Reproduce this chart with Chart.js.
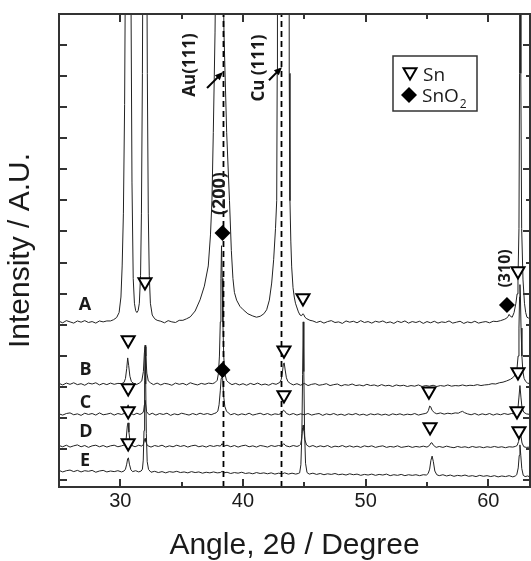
<!DOCTYPE html>
<html>
<head>
<meta charset="utf-8">
<title>XRD patterns A-E</title>
<script src="https://cdn.jsdelivr.net/npm/chart.js"></script>
<style>
  html, body { margin: 0; padding: 0; background: #fff; overflow: hidden; }
  canvas { display: block; }
</style>
</head>
<body>
<canvas id="xrd" width="531" height="561"></canvas>
<script>
// Diffraction traces: [2-theta, intensity above the trace baseline]
const traceA = [
  [25.0, 0.02], [25.3, -0.03], [25.6, 0.04], [25.9, 0.00], [26.2, -0.04], [26.5, 0.03], [26.8, -0.01], [27.1, 0.04],
  [27.4, -0.02], [27.7, 0.01], [28.0, -0.04], [28.3, 0.03], [28.6, 0.00], [28.9, 0.03], [29.2, 0.03], [29.45, 0.07],
  [29.7, 0.14], [29.9, 0.3], [30.05, 0.8], [30.15, 1.8], [30.25, 3.5], [30.35, 7], [30.45, 14], [30.55, 28],
  [30.65, 40], [30.75, 28], [30.85, 12], [30.95, 4.5], [31.05, 1.4], [31.15, 0.6], [31.25, 0.36], [31.35, 0.3],
  [31.45, 0.36], [31.55, 0.6], [31.65, 1.5], [31.72, 3.5], [31.8, 8], [31.9, 18], [32.0, 40], [32.1, 18],
  [32.2, 8], [32.28, 3.5], [32.36, 1.5], [32.45, 0.6], [32.6, 0.22], [32.8, 0.1], [33.0, 0.05],
  [33.3, 0.02], [33.6, -0.03], [33.9, 0.04], [34.2, 0.00], [34.5, -0.02], [34.8, 0.05], [35.1, 0.05],
  [35.4, 0.1], [35.7, 0.16], [36.1, 0.35], [36.5, 0.71], [36.85, 1.15], [37.17, 1.8], [37.35, 2.8], [37.47, 3.9],
  [37.58, 6.1], [37.72, 9.3], [37.85, 14], [38.08, 24], [38.3, 14], [38.45, 9.3], [38.67, 6.1], [38.9, 3.9],
  [39.05, 2.3], [39.18, 1.4], [39.3, 0.95], [39.48, 0.7], [39.75, 0.5], [40.02, 0.39], [40.4, 0.26], [40.8, 0.19],
  [41.1, 0.15], [41.4, 0.18], [41.7, 0.26], [41.93, 0.39], [42.15, 0.7], [42.34, 1.25], [42.5, 2.0], [42.65, 3.0],
  [42.75, 3.9], [42.79, 8], [42.81, 30], [43.27, 300], [43.74, 30], [43.77, 8], [43.83, 3.9], [43.9, 2.6],
  [43.97, 1.77], [44.08, 1.1], [44.18, 0.8], [44.28, 0.6], [44.38, 0.48], [44.52, 0.32], [44.65, 0.22], [44.78, 0.2],
  [44.88, 0.26], [44.95, 0.24], [45.05, 0.15], [45.2, 0.1], [45.46, 0.05],
  [45.7, 0.03], [46.0, -0.02], [46.3, 0.02], [46.6, -0.04], [46.9, 0.01], [47.2, 0.04], [47.5, -0.02], [47.8, 0.00],
  [48.1, -0.05], [48.4, 0.03], [48.7, -0.01], [49.0, 0.02], [49.3, -0.03], [49.6, 0.04], [49.9, -0.02], [50.2, 0.01],
  [50.5, -0.04], [50.8, 0.02], [51.1, -0.01], [51.4, 0.03], [51.7, -0.03], [52.0, 0.00], [52.3, -0.05], [52.6, 0.02],
  [52.9, -0.02], [53.2, 0.03], [53.5, -0.04], [53.8, 0.01], [54.1, -0.02], [54.4, 0.02], [54.7, -0.05], [55.0, 0.01],
  [55.3, -0.03], [55.6, 0.02], [55.9, -0.04], [56.2, 0.00], [56.5, -0.02], [56.8, 0.03], [57.1, -0.04], [57.4, -0.01],
  [57.7, 0.02], [58.0, -0.05], [58.3, 0.00], [58.6, -0.03], [58.9, 0.02], [59.2, -0.04], [59.5, -0.01], [59.8, 0.01],
  [60.1, -0.03], [60.4, 0.02], [60.7, 0.01],
  [61.0, 0.04], [61.3, 0.08], [61.5, 0.12], [61.62, 0.18], [61.7, 0.24], [61.8, 0.18], [61.95, 0.15], [62.1, 0.3],
  [62.25, 0.6], [62.35, 0.9], [62.42, 1.35], [62.5, 3], [62.55, 8], [62.6, 30], [62.65, 8], [62.72, 3],
  [62.83, 1.35], [62.95, 0.6], [63.05, 0.3], [63.15, 0.15], [63.3, 0.12], [63.4, 0.15]
];

const traceB = [
  [25.0, 0.02], [25.3, -0.03], [25.6, 0.03], [25.9, -0.01], [26.2, 0.04], [26.5, -0.02], [26.8, 0.01], [27.1, -0.04],
  [27.4, 0.03], [27.7, 0.00], [28.0, 0.04], [28.3, -0.03], [28.6, 0.02], [28.9, -0.02], [29.2, 0.03], [29.5, -0.01],
  [29.8, 0.02], [30.1, 0.01],
  [30.3, 0.05], [30.42, 0.18], [30.52, 0.5], [30.6, 0.84], [30.68, 0.6], [30.78, 0.25], [30.9, 0.08], [31.05, 0.03],
  [31.3, -0.02], [31.55, 0.03], [31.75, 0.1], [31.88, 0.4], [31.96, 1.0], [32.02, 1.2], [32.08, 0.9], [32.16, 0.35],
  [32.28, 0.1], [32.45, 0.04],
  [32.7, -0.02], [33.0, 0.03], [33.3, -0.03], [33.6, 0.02], [33.9, 0.00], [34.2, -0.04], [34.5, 0.03], [34.8, -0.01],
  [35.1, 0.02], [35.4, -0.03], [35.7, 0.04], [36.0, 0.00], [36.3, -0.03], [36.6, 0.02], [36.9, -0.01], [37.2, 0.03],
  [37.5, 0.01],
  [37.7, 0.04], [37.9, 0.12], [38.0, 0.35], [38.08, 0.9], [38.15, 2.0], [38.2, 3.4], [38.25, 4.45], [38.3, 3.4],
  [38.36, 2.0], [38.43, 0.9], [38.52, 0.35], [38.65, 0.12], [38.85, 0.04],
  [39.1, -0.02], [39.4, 0.02], [39.7, -0.03], [40.0, 0.01], [40.3, -0.04], [40.6, 0.02], [40.9, -0.02], [41.2, 0.03],
  [41.5, -0.03], [41.8, 0.00], [42.1, -0.04], [42.4, 0.02], [42.7, -0.01],
  [43.0, 0.05], [43.12, 0.15], [43.22, 0.4], [43.3, 0.65], [43.36, 0.68], [43.44, 0.45], [43.54, 0.2], [43.66, 0.08],
  [43.85, 0.02],
  [44.1, -0.03], [44.4, 0.01], [44.7, -0.04], [45.0, 0.02], [45.3, -0.05], [45.6, -0.01], [45.9, 0.01], [46.2, -0.04],
  [46.5, -0.02], [46.8, 0.01], [47.1, -0.05], [47.4, -0.02], [47.7, 0.00], [48.0, -0.06], [48.3, -0.02], [48.6, -0.04],
  [48.9, 0.00], [49.2, -0.05], [49.5, -0.03], [49.8, -0.06], [50.1, -0.01], [50.4, -0.05], [50.7, -0.03], [51.0, -0.07],
  [51.3, -0.02], [51.6, -0.06], [51.9, -0.04], [52.2, -0.08], [52.5, -0.03], [52.8, -0.06], [53.1, -0.04], [53.4, -0.08],
  [53.7, -0.05], [54.0, -0.07], [54.3, -0.03], [54.6, -0.08], [54.9, -0.05], [55.2, -0.07], [55.5, -0.04], [55.8, -0.08],
  [56.1, -0.05], [56.4, -0.07], [56.7, -0.03], [57.0, -0.07], [57.3, -0.05], [57.6, -0.06], [57.9, -0.03], [58.2, -0.06],
  [58.5, -0.04], [58.8, -0.05], [59.1, -0.02], [59.4, -0.05], [59.7, -0.03], [60.0, -0.02],
  [60.3, 0.01], [60.6, 0.00], [60.9, 0.04], [61.2, 0.06], [61.5, 0.1], [61.8, 0.15], [62.05, 0.22], [62.2, 0.3],
  [62.33, 0.45], [62.43, 0.9], [62.5, 1.8], [62.55, 2.8], [62.58, 3.2], [62.62, 2.8], [62.67, 1.8], [62.74, 0.9],
  [62.82, 0.4], [62.92, 0.18], [63.05, 0.08], [63.2, 0.03], [63.4, 0.01]
];

const traceC = [
  [25.0, 0.01], [25.3, -0.03], [25.6, 0.02], [25.9, 0.04], [26.2, -0.02], [26.5, 0.01], [26.8, -0.04], [27.1, 0.03],
  [27.4, -0.01], [27.7, 0.02], [28.0, -0.03], [28.3, 0.04], [28.6, -0.02], [28.9, 0.00], [29.2, 0.03], [29.5, -0.03],
  [29.8, 0.02], [30.1, -0.01], [30.3, 0.02],
  [30.45, 0.06], [30.56, 0.22], [30.64, 0.3], [30.73, 0.13], [30.88, 0.02],
  [31.1, -0.02], [31.35, 0.03], [31.6, -0.01], [31.8, 0.03],
  [31.9, 0.1], [31.96, 0.3], [32.01, 0.45], [32.06, 0.32], [32.14, 0.08],
  [32.35, -0.02], [32.6, 0.03], [32.9, -0.03], [33.2, 0.02], [33.5, -0.01], [33.8, 0.03], [34.1, -0.04], [34.4, 0.01],
  [34.7, -0.02], [35.0, 0.03], [35.3, 0.00], [35.6, -0.03], [35.9, 0.02], [36.2, -0.02], [36.5, 0.03], [36.8, -0.01],
  [37.1, 0.02], [37.4, -0.02], [37.65, 0.02],
  [37.8, 0.04], [37.95, 0.1], [38.05, 0.3], [38.15, 0.75], [38.22, 1.15], [38.28, 1.35], [38.34, 1.15], [38.42, 0.6],
  [38.52, 0.25], [38.65, 0.1], [38.8, 0.04],
  [39.0, -0.02], [39.3, 0.02], [39.6, -0.03], [39.9, 0.01], [40.2, -0.02], [40.5, 0.03], [40.8, -0.03], [41.1, 0.00],
  [41.4, 0.03], [41.7, -0.02], [42.0, 0.02], [42.3, -0.03], [42.6, 0.01], [42.9, -0.01],
  [43.15, 0.03], [43.3, 0.13], [43.4, 0.1], [43.55, 0.02],
  [43.8, -0.02], [44.1, 0.02], [44.4, -0.03], [44.7, 0.01], [45.0, -0.02], [45.3, 0.02], [45.6, -0.03], [45.9, 0.00],
  [46.2, 0.02], [46.5, -0.04], [46.8, 0.01], [47.1, -0.02], [47.4, 0.02], [47.7, -0.03], [48.0, 0.00], [48.3, -0.04],
  [48.6, 0.01], [48.9, -0.02], [49.2, 0.02], [49.5, -0.03], [49.8, 0.00], [50.1, -0.04], [50.4, 0.01], [50.7, -0.02],
  [51.0, 0.01], [51.3, -0.03], [51.6, 0.00], [51.9, -0.04], [52.2, 0.01], [52.5, -0.02], [52.8, 0.01], [53.1, -0.03],
  [53.4, 0.00], [53.7, -0.02], [54.0, 0.02], [54.3, -0.03], [54.6, 0.00], [54.85, 0.02],
  [55.0, 0.04], [55.12, 0.12], [55.22, 0.26], [55.3, 0.24], [55.42, 0.12], [55.6, 0.05],
  [55.8, 0.01], [56.1, 0.04], [56.4, 0.00], [56.7, 0.03], [57.0, 0.01], [57.3, 0.04], [57.55, 0.03], [57.75, 0.07],
  [57.9, 0.09], [58.05, 0.05], [58.3, 0.01], [58.6, -0.02], [58.9, 0.02], [59.2, -0.03], [59.5, 0.01], [59.8, -0.02],
  [60.1, 0.02], [60.4, -0.03], [60.7, 0.01], [61.0, -0.02], [61.3, 0.02], [61.6, -0.01], [61.9, 0.02], [62.15, 0.01],
  [62.3, 0.05], [62.42, 0.2], [62.5, 0.55], [62.58, 0.92], [62.66, 0.55], [62.75, 0.2], [62.9, 0.06], [63.1, 0.01],
  [63.4, -0.01]
];

const traceD = [
  [25.0, 0.02], [25.3, -0.02], [25.6, 0.03], [25.9, -0.03], [26.2, 0.01], [26.5, 0.04], [26.8, -0.02], [27.1, 0.02],
  [27.4, -0.04], [27.7, 0.01], [28.0, 0.03], [28.3, -0.02], [28.6, 0.02], [28.9, -0.03], [29.2, 0.01], [29.5, 0.03],
  [29.8, -0.02], [30.1, 0.01],
  [30.35, 0.04], [30.48, 0.25], [30.57, 0.65], [30.63, 0.75], [30.7, 0.45], [30.8, 0.12], [30.95, 0.02],
  [31.2, -0.02], [31.5, 0.03], [31.75, 0.00],
  [31.88, 0.06], [31.97, 0.2], [32.02, 0.25], [32.08, 0.15], [32.2, 0.02],
  [32.5, -0.03], [32.8, 0.02], [33.1, -0.01], [33.4, 0.03], [33.7, -0.03], [34.0, 0.01], [34.3, -0.02], [34.6, 0.03],
  [34.9, -0.01], [35.2, 0.02], [35.5, -0.03], [35.8, 0.01], [36.1, 0.03], [36.4, -0.02], [36.7, 0.01], [37.0, -0.03],
  [37.3, 0.02], [37.6, -0.01], [37.9, 0.02], [38.15, 0.00], [38.3, 0.08], [38.45, 0.00], [38.7, 0.03], [39.0, -0.02],
  [39.3, 0.02], [39.6, -0.03], [39.9, 0.01], [40.2, 0.03], [40.5, -0.02], [40.8, 0.01], [41.1, -0.03], [41.4, 0.02],
  [41.7, 0.00], [42.0, -0.03], [42.3, 0.02], [42.6, -0.01], [42.9, 0.02], [43.15, 0.00], [43.32, 0.08], [43.5, 0.01],
  [43.8, -0.02], [44.1, 0.02], [44.4, -0.01], [44.6, 0.02],
  [44.7, 0.06], [44.79, 0.25], [44.86, 0.6], [44.91, 0.68], [44.97, 0.5], [45.05, 0.2], [45.18, 0.04],
  [45.4, -0.02], [45.7, 0.02], [46.0, -0.03], [46.3, 0.01], [46.6, -0.02], [46.9, 0.02], [47.2, -0.04], [47.5, 0.00],
  [47.8, -0.02], [48.1, 0.02], [48.4, -0.03], [48.7, 0.01], [49.0, -0.03], [49.3, 0.00], [49.6, -0.04], [49.9, 0.01],
  [50.2, -0.02], [50.5, 0.01], [50.8, -0.04], [51.1, -0.01], [51.4, 0.01], [51.7, -0.04], [52.0, -0.01], [52.3, -0.03],
  [52.6, 0.01], [52.9, -0.04], [53.2, -0.02], [53.5, 0.00], [53.8, -0.04], [54.1, -0.01], [54.4, -0.03], [54.7, 0.00],
  [55.0, -0.03],
  [55.2, 0.02], [55.32, 0.1], [55.4, 0.11], [55.52, 0.03],
  [55.75, -0.04], [56.0, -0.01], [56.3, -0.04], [56.6, 0.00], [56.9, -0.03], [57.2, -0.05], [57.5, -0.01], [57.8, -0.04],
  [58.1, -0.02], [58.4, -0.05], [58.7, -0.01], [59.0, -0.04], [59.3, -0.02], [59.6, -0.05], [59.9, -0.02], [60.2, -0.04],
  [60.5, -0.01], [60.8, -0.04], [61.1, -0.02], [61.4, -0.05], [61.7, -0.02], [62.0, -0.03], [62.2, -0.01],
  [62.35, 0.02], [62.47, 0.15], [62.55, 0.38], [62.6, 0.43], [62.66, 0.33], [62.75, 0.1], [62.9, -0.02], [63.1, -0.04],
  [63.4, -0.03]
];

const traceE = [
  [25.0, 0.02], [25.3, -0.03], [25.6, 0.01], [25.9, 0.03], [26.2, -0.02], [26.5, 0.02], [26.8, -0.03], [27.1, 0.01],
  [27.4, -0.01], [27.7, 0.02], [28.0, -0.04], [28.3, 0.00], [28.6, 0.02], [28.9, -0.03], [29.2, 0.00], [29.5, -0.02],
  [29.8, 0.01], [30.1, -0.03], [30.3, 0.00],
  [30.42, 0.06], [30.52, 0.22], [30.6, 0.4], [30.66, 0.42], [30.74, 0.22], [30.86, 0.04],
  [31.0, -0.02], [31.25, 0.01], [31.5, -0.03], [31.7, 0.00],
  [31.8, 0.06], [31.87, 0.35], [31.93, 1.3], [31.98, 2.9], [32.02, 4.05], [32.07, 2.8], [32.12, 1.2], [32.19, 0.3],
  [32.3, 0.05],
  [32.5, -0.04], [32.8, -0.01], [33.1, -0.05], [33.4, -0.02], [33.7, -0.06], [34.0, -0.02], [34.3, -0.04], [34.6, -0.01],
  [34.9, -0.05], [35.2, -0.03], [35.5, -0.06], [35.8, -0.02], [36.1, -0.05], [36.4, -0.03], [36.7, -0.07], [37.0, -0.04],
  [37.3, -0.06], [37.6, -0.03], [37.9, -0.06], [38.15, -0.05], [38.3, -0.01], [38.45, -0.06], [38.7, -0.04], [39.0, -0.08],
  [39.3, -0.05], [39.6, -0.07], [39.9, -0.04], [40.2, -0.08], [40.5, -0.06], [40.8, -0.09], [41.1, -0.05], [41.4, -0.08],
  [41.7, -0.06], [42.0, -0.09], [42.3, -0.06], [42.6, -0.1], [42.9, -0.07], [43.2, -0.09], [43.4, -0.06], [43.7, -0.1],
  [44.0, -0.07], [44.3, -0.1], [44.5, -0.08], [44.62, -0.06],
  [44.72, 0.2], [44.8, 1.2], [44.86, 3.1], [44.91, 4.8], [44.96, 3.2], [45.02, 1.3], [45.1, 0.25], [45.22, -0.05],
  [45.4, -0.1], [45.7, -0.07], [46.0, -0.11], [46.3, -0.08], [46.6, -0.12], [46.9, -0.09], [47.2, -0.11], [47.5, -0.08],
  [47.8, -0.12], [48.1, -0.1], [48.4, -0.13], [48.7, -0.09], [49.0, -0.12], [49.3, -0.1], [49.6, -0.14], [49.9, -0.11],
  [50.2, -0.13], [50.5, -0.1], [50.8, -0.14], [51.1, -0.11], [51.4, -0.13], [51.7, -0.1], [52.0, -0.15], [52.3, -0.12],
  [52.6, -0.14], [52.9, -0.11], [53.2, -0.15], [53.5, -0.12], [53.8, -0.14], [54.1, -0.12], [54.4, -0.15], [54.7, -0.12],
  [54.95, -0.13],
  [55.1, -0.08], [55.22, 0.06], [55.32, 0.34], [55.42, 0.48], [55.52, 0.3], [55.64, 0.00], [55.8, -0.12],
  [56.0, -0.15], [56.3, -0.12], [56.6, -0.16], [56.9, -0.13], [57.2, -0.17], [57.5, -0.14], [57.8, -0.16], [58.1, -0.13],
  [58.4, -0.17], [58.7, -0.15], [59.0, -0.18], [59.3, -0.14], [59.6, -0.17], [59.9, -0.15], [60.2, -0.18], [60.5, -0.15],
  [60.8, -0.19], [61.1, -0.16], [61.4, -0.18], [61.7, -0.15], [62.0, -0.19], [62.2, -0.16],
  [62.32, -0.12], [62.44, 0.1], [62.52, 0.5], [62.58, 0.84], [62.65, 0.5], [62.73, 0.08], [62.85, -0.14], [63.0, -0.18],
  [63.2, -0.16], [63.4, -0.19]
];

const traces = [traceA, traceB, traceC, traceD, traceE];
const traceNames = ['A', 'B', 'C', 'D', 'E'];
const traceOffsets = [5.09, 3.09, 2.12, 1.09, 0.29];

// Phase markers [2-theta, stacked intensity]
const snPeaks = [
  [32.01, 6.37], [30.64, 4.51], [30.64, 2.96], [30.64, 2.22], [30.64, 1.19],
  [44.89, 5.86], [43.34, 4.18], [43.34, 2.74], [55.16, 2.86], [55.25, 1.71],
  [62.42, 6.73], [62.42, 3.48], [62.34, 2.22], [62.5, 1.58]
];
const sno2Peaks = [[38.33, 7.95], [38.33, 3.54], [61.52, 5.63]];

// Reference lines for Au(111) and Cu(111)
const refAngles = [38.41, 43.14];

// Axis ticks
const xMajorTicks = [30, 40, 50, 60];
const xMinorTicks = [35, 45, 55];
const yTicks = [0, 1, 2, 3, 4, 5, 6, 7, 8, 9, 10, 11, 12, 13, 14];

// Where the annotation texts sit (data coordinates)
const nameSpots = [[27.12, 5.63], [27.16, 3.56], [27.16, 2.49], [27.2, 1.54], [27.12, 0.61]];
const peakLabels = [
  { text: 'Au(111)', at: [35.68, 13.36], size: 17 },
  { text: 'Cu (111)', at: [41.31, 13.26], size: 17 },
  { text: '(200)', at: [38.13, 9.22], size: 18 },
  { text: '(310)', at: [61.36, 6.81], size: 16 }
];
const arrows = [[37.07, 12.62, 38.37, 13.13], [42.12, 12.87, 43.18, 13.29]];

const INK = '#1a1a1a';
const SANS = '"Liberation Sans", Arial, sans-serif';
const LABEL = '"Open Sans", "DejaVu Sans", sans-serif';

function drawDown(ctx, x, y, r) {
  ctx.beginPath();
  ctx.moveTo(x, y + r);
  ctx.lineTo(x - 0.866 * r, y - 0.5 * r);
  ctx.lineTo(x + 0.866 * r, y - 0.5 * r);
  ctx.closePath();
  ctx.fillStyle = '#fff';
  ctx.fill();
  ctx.lineWidth = 2;
  ctx.strokeStyle = '#000';
  ctx.stroke();
}

function drawDiamond(ctx, x, y, r) {
  ctx.beginPath();
  ctx.moveTo(x - r, y);
  ctx.lineTo(x, y - r);
  ctx.lineTo(x + r, y);
  ctx.lineTo(x, y + r);
  ctx.closePath();
  ctx.fillStyle = '#000';
  ctx.fill();
}

// Frame and inward ticks
const frame = {
  id: 'frame',
  afterDatasetsDraw(chart) {
    const { ctx, chartArea: a, scales: { x, y } } = chart;
    ctx.save();
    ctx.strokeStyle = '#333';
    ctx.lineWidth = 2;
    ctx.strokeRect(a.left, a.top, a.right - a.left, a.bottom - a.top);
    ctx.beginPath();
    const xt = [...xMajorTicks.map(v => [v, 8]), ...xMinorTicks.map(v => [v, 5])];
    xt.forEach(([v, len]) => {
      const px = Math.round(x.getPixelForValue(v));
      ctx.moveTo(px, a.bottom); ctx.lineTo(px, a.bottom - len);
      ctx.moveTo(px, a.top); ctx.lineTo(px, a.top + len);
    });
    yTicks.forEach(v => {
      const py = Math.round(y.getPixelForValue(v));
      ctx.moveTo(a.left, py); ctx.lineTo(a.left + 8, py);
      ctx.moveTo(a.right, py); ctx.lineTo(a.right - (v % 2 === 0 ? 7 : 4), py);
    });
    ctx.stroke();
    ctx.restore();
  }
};

// Trace letters, peak labels, arrows and the legend box
const notes = {
  id: 'notes',
  afterDatasetsDraw(chart) {
    const { ctx, chartArea: a, scales: { x, y } } = chart;
    ctx.save();
    ctx.fillStyle = INK;
    ctx.textAlign = 'center';
    ctx.textBaseline = 'middle';
    ctx.font = 'bold 18px ' + LABEL;
    traceNames.forEach((n, i) => {
      ctx.fillText(n, x.getPixelForValue(nameSpots[i][0]), y.getPixelForValue(nameSpots[i][1]));
    });

    peakLabels.forEach(l => {
      ctx.save();
      ctx.translate(x.getPixelForValue(l.at[0]), y.getPixelForValue(l.at[1]));
      ctx.rotate(-Math.PI / 2);
      ctx.font = 'bold ' + l.size + 'px ' + LABEL;
      ctx.fillText(l.text, 0, 0);
      ctx.restore();
    });

    arrows.forEach(([x0, y0, x1, y1]) => {
      const ax = x.getPixelForValue(x0), ay = y.getPixelForValue(y0);
      const bx = x.getPixelForValue(x1), by = y.getPixelForValue(y1);
      const ang = Math.atan2(by - ay, bx - ax);
      ctx.strokeStyle = '#000';
      ctx.lineWidth = 2;
      ctx.beginPath();
      ctx.moveTo(ax, ay);
      ctx.lineTo(bx - 5 * Math.cos(ang), by - 5 * Math.sin(ang));
      ctx.stroke();
      ctx.beginPath();
      ctx.moveTo(bx, by);
      ctx.lineTo(bx - 8 * Math.cos(ang) + 3.5 * Math.sin(ang), by - 8 * Math.sin(ang) - 3.5 * Math.cos(ang));
      ctx.lineTo(bx - 8 * Math.cos(ang) - 3.5 * Math.sin(ang), by - 8 * Math.sin(ang) + 3.5 * Math.cos(ang));
      ctx.closePath();
      ctx.fillStyle = '#000';
      ctx.fill();
    });

    // legend
    const lx = a.right - 137, ly = a.top + 42;
    ctx.strokeStyle = '#333';
    ctx.lineWidth = 1.5;
    ctx.strokeRect(lx, ly, 84, 55);
    drawDown(ctx, lx + 17, ly + 16, 7.5);
    drawDiamond(ctx, lx + 16, ly + 39, 8);
    ctx.fillStyle = INK;
    ctx.textAlign = 'left';
    ctx.textBaseline = 'alphabetic';
    ctx.font = '19px ' + LABEL;
    ctx.fillText('Sn', lx + 30, ly + 25);
    ctx.fillText('SnO', lx + 29, ly + 46);
    const w = ctx.measureText('SnO').width;
    ctx.font = '12px ' + LABEL;
    ctx.fillText('2', lx + 30 + w, ly + 52);
    ctx.restore();
  }
};

const datasets = [];
datasets.push({
  data: snPeaks.map(([a, v]) => ({ x: a, y: v })),
  showLine: false, order: 0,
  pointStyle: 'triangle', pointRotation: 180, pointRadius: 7.5,
  pointBorderWidth: 2, pointBackgroundColor: '#fff', pointBorderColor: '#000'
});
datasets.push({
  data: sno2Peaks.map(([a, v]) => ({ x: a, y: v })),
  showLine: false, order: 0,
  pointStyle: 'rectRot', pointRadius: 8,
  pointBorderWidth: 0, pointBackgroundColor: '#000', pointBorderColor: '#000'
});
refAngles.forEach(a => {
  datasets.push({
    data: [{ x: a, y: -0.225 }, { x: a, y: 15 }],
    showLine: true, order: 1, pointRadius: 0,
    borderColor: '#000', borderWidth: 1.8, borderDash: [6, 4]
  });
});
traces.forEach((pts, i) => {
  datasets.push({
    label: traceNames[i],
    data: pts.map(([a, v]) => ({ x: a, y: v + traceOffsets[i] })),
    showLine: true, order: 2, pointRadius: 0, tension: 0,
    borderColor: '#222', borderWidth: 1
  });
});

new Chart(document.getElementById('xrd'), {
  type: 'scatter',
  data: { datasets },
  options: {
    responsive: false,
    animation: false,
    events: [],
    layout: { autoPadding: false, padding: { top: 14, right: 1, bottom: 0, left: 0 } },
    plugins: { legend: { display: false }, tooltip: { enabled: false } },
    scales: {
      x: {
        type: 'linear', min: 25, max: 63.4,
        afterFit(s) { s.height = 74; s.paddingLeft = 0; s.paddingRight = 0; },
        afterBuildTicks(s) { s.ticks = xMajorTicks.map(v => ({ value: v })); },
        grid: { display: false, drawTicks: false },
        border: { display: false },
        ticks: {
          autoSkip: false, maxRotation: 0, padding: 2,
          color: INK, font: { family: SANS, size: 20 }
        },
        title: {
          display: true, text: 'Angle, 2\u03b8 / Degree', color: INK,
          font: { family: SANS, size: 30, lineHeight: 1 }, padding: { top: 0, bottom: 0 }
        }
      },
      y: {
        type: 'linear', min: -0.225, max: 15,
        afterFit(s) { s.width = 59; s.paddingTop = 0; s.paddingBottom = 0; },
        grid: { display: false, drawTicks: false },
        border: { display: false },
        ticks: { display: false },
        title: {
          display: true, text: 'Intensity / A.U.', color: INK,
          font: { family: SANS, size: 30, lineHeight: 1 }, padding: { top: 6, bottom: 0 }
        }
      }
    }
  },
  plugins: [frame, notes]
});
</script>
</body>
</html>
